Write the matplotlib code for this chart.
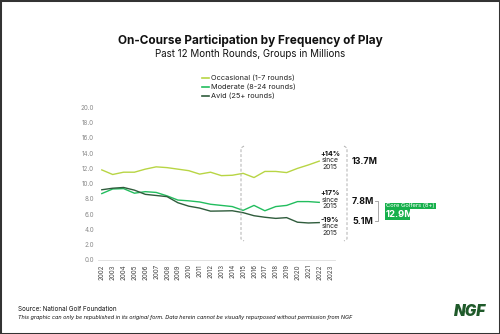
import matplotlib.pyplot as plt
from matplotlib.lines import Line2D
from matplotlib.patches import Rectangle

plt.rcParams['font.family'] = ['Inter', 'DejaVu Sans']

years = list(range(2002, 2023))
tick_years = list(range(2002, 2024))
occasional = [11.8, 11.2, 11.5, 11.5, 11.9, 12.2, 12.1, 11.9, 11.7, 11.25, 11.5,
              11.05, 11.1, 11.35, 10.8, 11.6, 11.6, 11.45, 12.0, 12.45, 12.95]
moderate = [8.7, 9.3, 9.35, 8.75, 8.95, 8.85, 8.4, 7.85, 7.75, 7.6, 7.3,
            7.15, 7.0, 6.5, 7.15, 6.45, 7.0, 7.15, 7.65, 7.65, 7.55]
avid = [9.2, 9.4, 9.5, 9.15, 8.6, 8.45, 8.3, 7.5, 7.05, 6.8, 6.4,
        6.42, 6.45, 6.2, 5.8, 5.6, 5.45, 5.55, 4.95, 4.85, 4.9]
series_names = ['Occasional (1-7 rounds)', 'Moderate (8-24 rounds)', 'Avid (25+ rounds)']
colors = ['#b8d544', '#22bd5e', '#2f5c3c']
changes = ['+14%', '+17%', '-19%']
latest = ['13.7M', '7.8M', '5.1M']
core_total = '12.9M'

W, H = 500, 334
fig = plt.figure(figsize=(W / 100, H / 100), dpi=100)

def px(x, y):
    # pixel position -> figure fraction
    return x / W, 1 - y / H

ax = fig.add_axes([98 / W, 1 - 260 / H, 237 / W, 152.7 / H])
for vals, c in zip([occasional, moderate, avid], colors):
    ax.plot(years, vals, color=c, lw=1.0)
ax.set_xlim(2001.65, 2023.45)
ax.set_ylim(0, 20)
ax.set_yticks(range(0, 21, 2))
ax.set_yticklabels([f'{v:.1f}' for v in range(0, 21, 2)], fontsize=4.5, color='#8a8a8a')
ax.set_xticks(tick_years)
ax.set_xticklabels([str(y) for y in tick_years], rotation=90, fontsize=4.5, color='#444')
ax.tick_params(length=0, pad=3)
for s in ['top', 'right', 'left']:
    ax.spines[s].set_visible(False)
ax.spines['bottom'].set_color('#dddddd')
ax.spines['bottom'].set_linewidth(0.6)

# titles
fig.text(*px(250, 41), 'On-Course Participation by Frequency of Play', ha='center', va='center',
         fontsize=8.5, fontweight='bold', color='#111')
fig.text(*px(250, 54), 'Past 12 Month Rounds, Groups in Millions', ha='center', va='center',
         fontsize=7.0, color='#111')

# legend
for i, (name, c) in enumerate(zip(series_names, colors)):
    yy = 78 + 9 * i
    fig.add_artist(Line2D([202 / W, 209 / W], [1 - yy / H] * 2, color=c, lw=1.2))
    fig.text(*px(211, yy), name, ha='left', va='center', fontsize=5.3, color='#222')

# dashed brackets around 2015 -> 2022 change
def bracket(x, y0, y1, d):
    xs = [x + d, x, x, x + d]
    ys = [y0, y0 + 2, y1 - 2, y1]
    fx = [v / W for v in xs]
    fy = [1 - v / H for v in ys]
    fig.add_artist(Line2D(fx, fy, color='#b0b0b0', lw=0.7, ls=(0, (3, 2))))

bracket(241, 146, 241, 3)
bracket(347, 146, 241, -3)

# change annotations
for yy, ch in zip([154, 193, 220], changes):
    fig.text(*px(330, yy), ch, ha='center', va='center', fontsize=5.2, fontweight='bold', color='#111')
    fig.text(*px(330, yy + 6.5), 'since', ha='center', va='center', fontsize=4.8, color='#222')
    fig.text(*px(330, yy + 13), '2015', ha='center', va='center', fontsize=4.8, color='#222')
for yy, val in zip([161, 201, 222], latest):
    fig.text(*px(352, yy), val, ha='left', va='center', fontsize=6.4, fontweight='bold', color='#111')

# core golfers bracket and badge
fig.add_artist(Line2D([375 / W, 378 / W, 378 / W, 375 / W],
                      [1 - 201 / H, 1 - 201 / H, 1 - 221 / H, 1 - 221 / H],
                      color='#999', lw=0.6))
green = '#17b04c'
fig.add_artist(Rectangle(px(385, 209), 51 / W, 6 / H, color=green, lw=0))
fig.add_artist(Rectangle(px(385, 220), 25 / W, 11 / H, color=green, lw=0))
fig.text(*px(386, 206), 'Core Golfers (8+)', ha='left', va='center', fontsize=4.2, color='white')
fig.text(*px(386, 214.5), core_total, ha='left', va='center', fontsize=6.8, fontweight='bold', color='white')

# footer
fig.text(*px(18, 309), 'Source: National Golf Foundation', ha='left', va='center', fontsize=4.5, color='#111')
fig.text(*px(18, 317), 'This graphic can only be republished in its original form. Data herein cannot be '
         'visually repurposed without permission from NGF', ha='left', va='center',
         fontsize=3.95, style='italic', color='#111')
fig.text(*px(470, 311), 'NGF', ha='center', va='center', fontsize=11, fontweight='black',
         style='italic', color='#1f5a2a')

# outer frame
fig.add_artist(Rectangle((0, 0), 1, 1, transform=fig.transFigure, fill=False,
                         edgecolor='#333', lw=2.2))

fig.savefig('out.png', dpi=100)
